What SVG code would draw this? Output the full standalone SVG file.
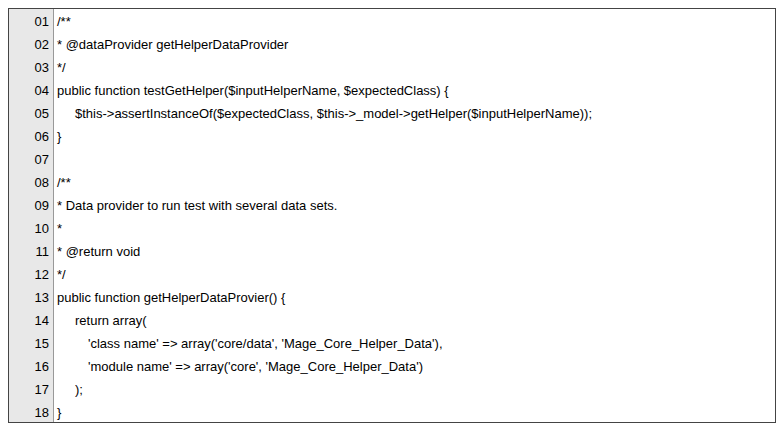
<svg xmlns="http://www.w3.org/2000/svg" width="784" height="433" viewBox="0 0 784 433">
<style>
.t{font-family:"Liberation Sans",Arial,sans-serif;font-size:13px;fill:#000}
.n{text-anchor:end}
</style>
<rect width="784" height="433" fill="#fff"/>
<g id="frame">
<rect x="8.5" y="8.5" width="767" height="414" fill="#fff" stroke="#444"/>
<rect x="9" y="9" width="44" height="413" fill="#e8e8e8"/>
<line x1="53.5" y1="9" x2="53.5" y2="422" stroke="#999"/>
</g>
<g id="numbers" class="t n">
<text x="49" y="26">01</text><text x="49" y="49">02</text><text x="49" y="72">03</text>
<text x="49" y="95">04</text><text x="49" y="118">05</text><text x="49" y="141">06</text>
<text x="49" y="164">07</text><text x="49" y="187">08</text><text x="49" y="210">09</text>
<text x="49" y="233">10</text><text x="49" y="256">11</text><text x="49" y="279">12</text>
<text x="49" y="302">13</text><text x="49" y="325">14</text><text x="49" y="348">15</text>
<text x="49" y="371">16</text><text x="49" y="394">17</text><text x="49" y="417">18</text>
</g>
<g id="code" class="t" xml:space="preserve">
<text x="57" y="26">/**</text>
<text x="57" y="49"> * @dataProvider getHelperDataProvider</text>
<text x="57" y="72"> */</text>
<text x="57" y="95">public function testGetHelper($inputHelperName, $expectedClass) {</text>
<text x="75" y="118">$this-&gt;assertInstanceOf($expectedClass, $this-&gt;_model-&gt;getHelper($inputHelperName));</text>
<text x="57" y="141">}</text>
<text x="57" y="187">/**</text>
<text x="57" y="210"> * Data provider to run test with several data sets.</text>
<text x="57" y="233"> *</text>
<text x="57" y="256"> * @return void</text>
<text x="57" y="279"> */</text>
<text x="57" y="302">public function getHelperDataProvier() {</text>
<text x="75" y="325">return array(</text>
<text x="88" y="348">'class name' =&gt; array('core/data', 'Mage_Core_Helper_Data'),</text>
<text x="88" y="371">'module name' =&gt; array('core', 'Mage_Core_Helper_Data')</text>
<text x="75" y="394">);</text>
<text x="57" y="417">}</text>
</g>
</svg>
